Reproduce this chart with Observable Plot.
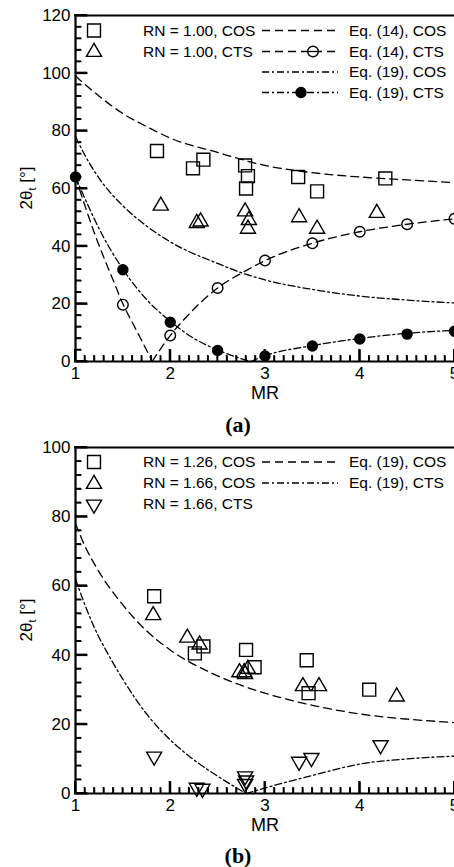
<!DOCTYPE html>
<html><head><meta charset="utf-8">
<script src="https://cdn.jsdelivr.net/npm/d3@7"></script>
<script src="https://cdn.jsdelivr.net/npm/@observablehq/plot@0.6"></script>
<style>
body{margin:0;background:#fff;width:454px;height:867px;overflow:hidden;position:relative;font-family:"Liberation Sans",Arial,sans-serif}
.panel{position:absolute;left:0;width:454px}
.ovl{position:absolute;left:0;width:454px;height:405px;z-index:3;pointer-events:none;overflow:hidden}
.cap{position:absolute;left:238px;transform:translateX(-50%);white-space:nowrap;font-family:"Liberation Serif","Times New Roman",serif;font-weight:bold;font-size:22px;line-height:22px;color:#000}
</style></head><body>
<div id="a" class="panel" style="top:0"></div>
<div class="cap" style="top:414px">(a)</div>
<div id="b" class="panel" style="top:432px"></div>
<div class="cap" style="top:845px">(b)</div>
<script>
// ---------- Panel (a) data ----------
const a_cos_mr = [1.86, 2.24, 2.35, 2.79, 2.82, 2.80, 3.35, 3.55, 4.27];
const a_cos_th = [73, 67, 70, 68, 64.3, 60, 64, 59, 63.5];
const a_cts_mr = [1.90, 2.28, 2.32, 2.79, 2.83, 2.82, 3.36, 3.55, 4.18];
const a_cts_th = [54, 48, 48.5, 52, 49, 46, 50, 46, 51.5];

const eq14cos_mr = [1, 1.25, 1.5, 1.75, 2, 2.5, 3, 3.5, 4, 4.5, 5];
const eq14cos_th = [99, 92, 86, 81.5, 77.5, 72.5, 68, 65.5, 64, 63, 62];
const eq14cts_mr = [1, 1.1, 1.2, 1.3, 1.4, 1.5, 1.6, 1.7, 1.81, 1.9, 2, 2.2, 2.5, 2.8, 3, 3.5, 4, 4.5, 5];
const eq14cts_th = [64, 54, 44.5, 36, 28, 20, 13.5, 7.2, 0, 4.5, 9, 16.5, 25.5, 31.5, 35, 41, 45, 47.6, 49.5];
const eq14cts_mk_mr = [1.5, 2, 2.5, 3, 3.5, 4, 4.5, 5];
const eq14cts_mk_th = [19.7, 9, 25.5, 35, 41, 45, 47.6, 49.5];
const a_eq19cos_mr = [1, 1.1, 1.25, 1.5, 1.75, 2, 2.5, 2.75, 3, 3.5, 4, 4.5, 5];
const a_eq19cos_th = [78, 71.5, 63.5, 54, 47, 41.5, 34, 30.8, 28.3, 25, 22.7, 21.3, 20.3];
const a_eq19cts_mr = [1, 1.1, 1.25, 1.5, 1.75, 2, 2.25, 2.5, 2.7, 2.85, 3, 3.5, 4, 4.5, 5];
const a_eq19cts_th = [64, 56.5, 46, 32, 21.5, 14, 8, 4, 1.5, 0, 2, 5.5, 8, 9.8, 10.8];
const a_eq19cts_mk_mr = [1, 1.5, 2, 2.5, 3, 3.5, 4, 4.5, 5];
const a_eq19cts_mk_th = [64, 31.8, 13.6, 3.8, 1.9, 5.4, 7.8, 9.5, 10.5];

// ---------- Panel (b) data ----------
const b_126cos_mr = [1.83, 2.26, 2.35, 2.80, 2.89, 3.44, 3.46, 4.10];
const b_126cos_th = [57, 40.5, 42.5, 41.5, 36.5, 38.5, 29, 30];
const b_166cos_mr = [1.82, 2.18, 2.31, 2.73, 2.78, 2.82, 2.79, 3.40, 3.57, 4.39];
const b_166cos_th = [51.5, 45, 43, 35, 35, 36, 34.5, 31, 31, 28];
const b_166cts_mr = [1.83, 2.28, 2.34, 2.79, 2.80, 2.79, 3.36, 3.49, 4.22];
const b_166cts_th = [10.7, 1.7, 1.4, 5, 3.8, 2.8, 9.2, 10.3, 14];
const b_eq19cos_mr = [1, 1.1, 1.25, 1.5, 1.75, 2, 2.5, 3, 3.5, 4, 4.5, 5];
const b_eq19cos_th = [78, 71.5, 64, 54.5, 47, 41.5, 34, 29, 25.5, 23, 21.5, 20.5];
const b_eq19cts_mr = [1, 1.1, 1.19, 1.37, 1.5, 1.75, 2, 2.18, 2.5, 2.67, 2.8, 3, 3.5, 4, 4.5, 5];
const b_eq19cts_th = [62, 54.5, 48.5, 39, 33, 23, 15.5, 11.2, 5, 2.1, 0, 1.6, 5.2, 8.5, 10, 10.8];

// tick values
const xTickVals = [1, 2, 3, 4, 5];
const yTicksA = [0, 20, 40, 60, 80, 100, 120];
const yTicksB = [0, 20, 40, 60, 80, 100];

// ---------- helpers ----------
const FONT = '"Liberation Sans", Arial, Helvetica, sans-serif';
const DASH = "8,5";
const DASHDOT = "7,3,2,3";
const triDown = {
  draw(ctx, size) {
    const y = Math.sqrt(size / (3 * Math.sqrt(3)));
    ctx.moveTo(0, 2 * y);
    ctx.lineTo(Math.sqrt(3) * y, -y);
    ctx.lineTo(-Math.sqrt(3) * y, -y);
    ctx.closePath();
  }
};
const hTick = L => ({draw(ctx) { ctx.moveTo(0, 0); ctx.lineTo(L, 0); }});
const vTick = L => ({draw(ctx) { ctx.moveTo(0, 0); ctx.lineTo(0, -L); }});
const R_SQ = 7.3, R_TRI = 5.6, R_CIR = 5.3, R_FIL = 5;

const pts = (xs, ys) => xs.map((x, i) => ({x, y: ys[i]}));
function curveRows(xs, ys) {
  const k = d3.minIndex(ys);
  const rows = [];
  xs.forEach((x, j) => {
    if (j <= k) rows.push({x, y: ys[j], b: 0});
    if (j >= k) rows.push({x, y: ys[j], b: 1});
  });
  return rows;
}
const curve = (xs, ys, dash) => Plot.line(curveRows(xs, ys), {
  x: "x", y: "y", z: "b", curve: "monotone-x", stroke: "black", strokeWidth: 1.3, strokeDasharray: dash
});
const dots = (xs, ys, symbol, r, fill = "none") => Plot.dot(pts(xs, ys), {
  x: "x", y: "y", symbol, r, stroke: "black", strokeWidth: 1.4, fill
});

const W = 454, H = 405, ML = 75, MR = 0, MT = 15, MB = 44;
const xMinor = d3.range(10, 51).filter(i => i % 10 !== 0).map(i => i / 10);
const yMinorOf = yTicks => d3.range(0, d3.max(yTicks) + 1, 4).filter(v => v % 20 !== 0);

function axes(yTicks) {
  const yMax = d3.max(yTicks);
  return [
    Plot.ruleY([yMax], {strokeWidth: 2, strokeLinecap: "square", stroke: "black"}),
    Plot.ruleY([0], {strokeWidth: 2.2, strokeLinecap: "square", stroke: "black"}),
    Plot.ruleX([1], {strokeWidth: 2.2, strokeLinecap: "square", stroke: "black"}),
    Plot.axisX({ticks: xTickVals, tickFormat: d => String(d), tickSize: 0, tickPadding: 5, label: null, fontSize: 17, fill: "black"}),
    Plot.axisY({ticks: yTicks, tickFormat: d => String(d), tickSize: 0, tickPadding: 5, label: null, fontSize: 17, fill: "black"}),
    Plot.text(["MR"], {frameAnchor: "bottom", lineAnchor: "top", dy: 25, fontSize: 18, fill: "black", text: d => d})
  ];
}
function ticks(yTicks) {
  return [
    Plot.dot(yMinorOf(yTicks), {y: d => d, frameAnchor: "left", symbol: hTick(6), stroke: "black", fill: "none", strokeWidth: 1.5}),
    Plot.dot(yTicks, {y: d => d, frameAnchor: "left", symbol: hTick(12), stroke: "black", fill: "none", strokeWidth: 2}),
    Plot.dot(xMinor, {x: d => d, frameAnchor: "bottom", symbol: vTick(6), stroke: "black", fill: "none", strokeWidth: 1.5}),
    Plot.dot(xTickVals, {x: d => d, frameAnchor: "bottom", symbol: vTick(12), stroke: "black", fill: "none", strokeWidth: 2})
  ];
}
// tick overlay drawn in a separate SVG above the panel, positioned through the plot's own scales
function tickOverlay(svg, yTicks, top) {
  let fx, fy;
  if (typeof svg.scale === "function") {
    const sx = svg.scale("x"), sy = svg.scale("y");
    fx = v => sx.apply(v); fy = v => sy.apply(v);
  } else {
    const sx = d3.scaleLinear([1, 5], [ML, W - MR]), sy = d3.scaleLinear([0, d3.max(yTicks)], [H - MB, MT]);
    fx = sx; fy = sy;
  }
  const x0 = fx(1), y0 = fy(0);
  const ov = d3.select("body").append("svg").attr("class", "ovl").style("top", top + "px")
    .attr("width", W).attr("height", H).attr("viewBox", `0 0 ${W} ${H}`);
  const g = ov.append("g").attr("stroke", "#000").attr("fill", "none");
  yMinorOf(yTicks).forEach(v => g.append("line").attr("x1", x0).attr("x2", x0 + 6).attr("y1", fy(v)).attr("y2", fy(v)).attr("stroke-width", 1.5));
  yTicks.forEach(v => g.append("line").attr("x1", x0).attr("x2", x0 + 12).attr("y1", fy(v)).attr("y2", fy(v)).attr("stroke-width", 2));
  xMinor.forEach(v => g.append("line").attr("x1", fx(v)).attr("x2", fx(v)).attr("y1", y0).attr("y2", y0 - 6).attr("stroke-width", 1.5));
  xTickVals.forEach(v => g.append("line").attr("x1", fx(v)).attr("x2", fx(v)).attr("y1", y0).attr("y2", y0 - 12).attr("stroke-width", 2));
}

function yLabel(svg) {
  const t = d3.select(svg).append("text")
    .attr("transform", "translate(31.5,188) rotate(-90)")
    .attr("text-anchor", "middle").attr("font-family", FONT)
    .attr("font-size", 17).attr("fill", "black");
  t.append("tspan").text("2θ");
  t.append("tspan").attr("font-size", 11).attr("dy", 4).text("t");
  t.append("tspan").attr("dy", -4).text(" [°]");
}

function legend(svg, syms, lines) {
  const g = d3.select(svg).append("g").attr("font-family", FONT).attr("font-size", 15.5)
    .attr("fill", "black").attr("text-anchor", "start");
  syms.forEach(s => {
    g.append("path").attr("d", d3.symbol(s.type, s.r * s.r * Math.PI)())
      .attr("transform", `translate(94,${s.y + (s.off || 0)})`)
      .attr("fill", "none").attr("stroke", "black").attr("stroke-width", 1.4);
    g.append("text").attr("x", 143).attr("y", s.y).attr("dy", "0.35em").text(s.label);
  });
  lines.forEach(l => {
    g.append("line").attr("x1", 262).attr("x2", 338).attr("y1", l.y).attr("y2", l.y)
      .attr("stroke", "black").attr("stroke-width", 1.3).attr("stroke-dasharray", l.dash);
    if (l.marker) {
      g.append("circle").attr("cx", l.mx).attr("cy", l.y).attr("r", l.marker === "open" ? R_CIR : R_FIL)
        .attr("fill", l.marker === "open" ? "white" : "black").attr("stroke", "black").attr("stroke-width", 1.4);
      if (l.marker === "open") g.append("line").attr("x1", l.mx - R_CIR).attr("x2", l.mx + R_CIR)
        .attr("y1", l.y).attr("y2", l.y).attr("stroke", "black").attr("stroke-width", 1.3);
    }
    g.append("text").attr("x", 349).attr("y", l.y).attr("dy", "0.35em").text(l.label);
  });
}

const base = () => ({
  width: W, height: H, marginLeft: ML, marginRight: MR, marginTop: MT, marginBottom: MB,
  style: {fontFamily: FONT, fontSize: "17px", color: "black", background: "transparent", overflow: "hidden"}
});

// ---------- Panel (a) ----------
const svgA = Plot.plot({
  ...base(),
  x: {domain: [1, 5]},
  y: {domain: [0, 120]},
  marks: [
    ...ticks(yTicksA),
    ...axes(yTicksA),
    curve(eq14cos_mr, eq14cos_th, DASH),
    curve(eq14cts_mr, eq14cts_th, DASH),
    curve(a_eq19cos_mr, a_eq19cos_th, DASHDOT),
    curve(a_eq19cts_mr, a_eq19cts_th, DASHDOT),
    dots(eq14cts_mk_mr, eq14cts_mk_th, "circle", R_CIR),
    dots(a_eq19cts_mk_mr, a_eq19cts_mk_th, "circle", R_FIL, "black"),
    dots(a_cos_mr, a_cos_th, "square", R_SQ),
    dots(a_cts_mr, a_cts_th, "triangle", R_TRI)
  ]
});
yLabel(svgA);
legend(svgA,
  [{type: d3.symbolSquare, r: R_SQ, y: 30.5, label: "RN = 1.00, COS"},
   {type: d3.symbolTriangle, r: R_TRI, y: 51.5, off: 0.5, label: "RN = 1.00, CTS"}],
  [{y: 30.5, dash: DASH, label: "Eq. (14), COS"},
   {y: 51.5, dash: DASH, marker: "open", mx: 313, label: "Eq. (14), CTS"},
   {y: 72, dash: DASHDOT, label: "Eq. (19), COS"},
   {y: 92.5, dash: DASHDOT, marker: "filled", mx: 301, label: "Eq. (19), CTS"}]);
document.getElementById("a").append(svgA);
tickOverlay(svgA, yTicksA, 0);

// ---------- Panel (b) ----------
const svgB = Plot.plot({
  ...base(),
  x: {domain: [1, 5]},
  y: {domain: [0, 100]},
  marks: [
    ...ticks(yTicksB),
    ...axes(yTicksB),
    curve(b_eq19cos_mr, b_eq19cos_th, DASH),
    curve(b_eq19cts_mr, b_eq19cts_th, DASHDOT),
    dots(b_126cos_mr, b_126cos_th, "square", R_SQ),
    dots(b_166cos_mr, b_166cos_th, "triangle", R_TRI),
    dots(b_166cts_mr, b_166cts_th, triDown, R_TRI)
  ]
});
yLabel(svgB);
legend(svgB,
  [{type: d3.symbolSquare, r: R_SQ, y: 30, label: "RN = 1.26, COS"},
   {type: d3.symbolTriangle, r: R_TRI, y: 51, off: 1, label: "RN = 1.66, COS"},
   {type: triDown, r: R_TRI, y: 71.5, off: 1, label: "RN = 1.66, CTS"}],
  [{y: 30, dash: DASH, label: "Eq. (19), COS"},
   {y: 51, dash: DASHDOT, label: "Eq. (19), CTS"}]);
document.getElementById("b").append(svgB);
tickOverlay(svgB, yTicksB, 432);
</script>
</body></html>
